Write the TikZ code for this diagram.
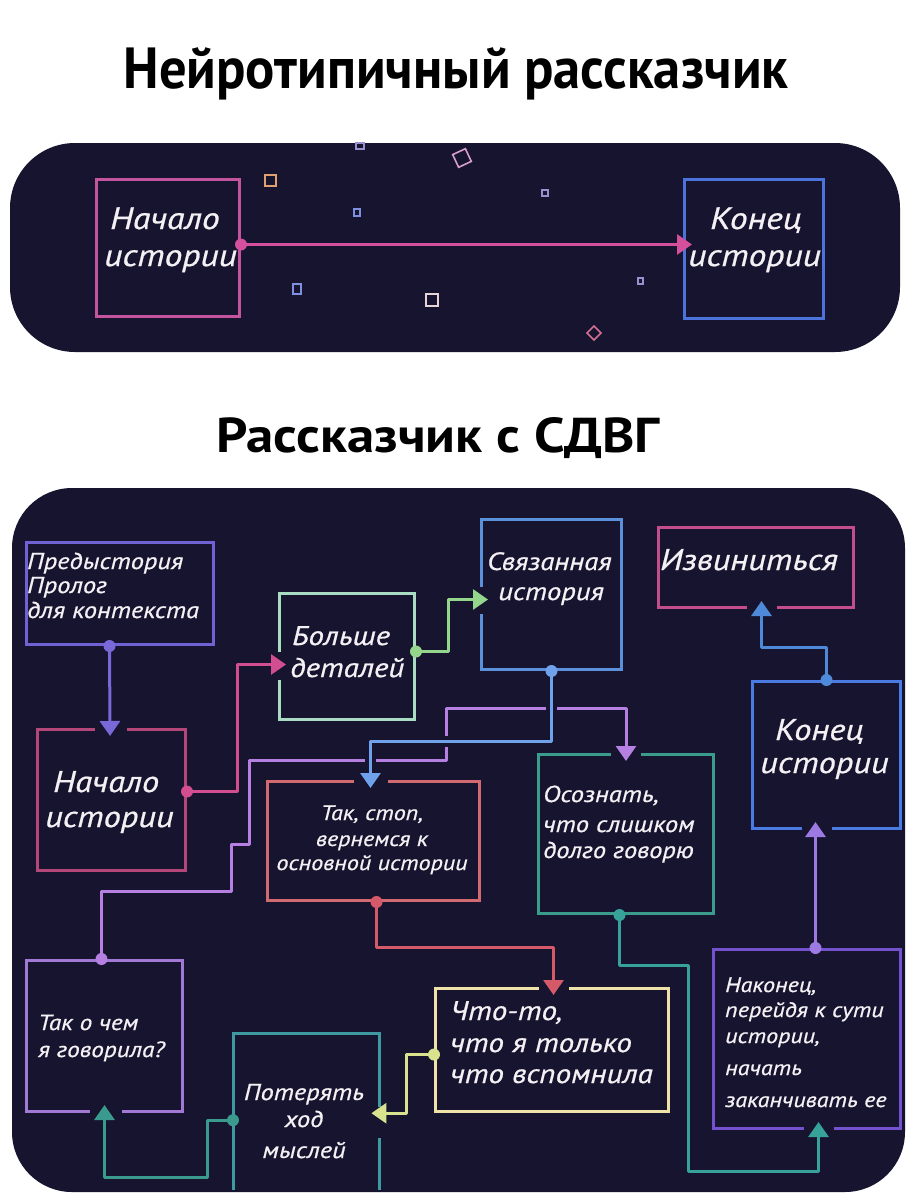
\documentclass[tikz,border=0pt]{standalone}
\usepackage{fontspec}
\setmainfont{PT Sans}
\newfontfamily\hand{PT Sans}[FakeStretch=1.15,FakeBold=0.7]
\newfontfamily\ttl{PT Sans}[FakeStretch=0.94]
\newfontfamily\ttlb{PT Sans}[FakeStretch=1.12]
\usetikzlibrary{arrows.meta,calc}
\definecolor{panel}{HTML}{17142F}
\definecolor{txt}{HTML}{F4F0F4}
\definecolor{cTS}{HTML}{C2559E}
\definecolor{cTE}{HTML}{4C72DC}
\definecolor{cTA}{HTML}{D4509C}
\definecolor{cPre}{HTML}{6E62D4}
\definecolor{cMore}{HTML}{A9DCC2}
\definecolor{cRel}{HTML}{5B90DA}
\definecolor{cSorry}{HTML}{C34E8C}
\definecolor{cStart}{HTML}{B4467A}
\definecolor{cStop}{HTML}{D26A72}
\definecolor{cReal}{HTML}{3A9C8C}
\definecolor{cEnd}{HTML}{4A7BE2}
\definecolor{cWhat}{HTML}{A27AD6}
\definecolor{cLose}{HTML}{3E9AA0}
\definecolor{cSth}{HTML}{F0E3AA}
\definecolor{cFin}{HTML}{7452CE}
\definecolor{aPre}{HTML}{7868D8}
\definecolor{aStart}{HTML}{D24E90}
\definecolor{aMore}{HTML}{93D68C}
\definecolor{aRel}{HTML}{6FA2EA}
\definecolor{aWhat}{HTML}{B680E2}
\definecolor{aStop}{HTML}{D45A6A}
\definecolor{aReal}{HTML}{36A299}
\definecolor{aFin}{HTML}{9C7AE2}
\definecolor{aEnd}{HTML}{4F8ADA}
\definecolor{aSth}{HTML}{D9E28C}
\definecolor{aLose}{HTML}{3A9A8E}
\definecolor{dOr}{HTML}{E0A070}
\definecolor{dPk}{HTML}{D8A0C8}
\definecolor{dLav}{HTML}{9A90D0}
\definecolor{dBl}{HTML}{8090E0}
\definecolor{dPale}{HTML}{E8D4D4}
\definecolor{dRose}{HTML}{D07090}
\begin{document}
\begin{tikzpicture}[x=1pt,y=-1pt,
  box/.style={draw, line width=3pt, inner sep=0pt, anchor=north west},
  conn/.style={line width=3pt, line join=round, shorten >=-8pt, -{Triangle[width=20pt,length=15pt]}},
  gapl/.style={draw=panel, line width=8pt},
  halo/.style={preaction={draw=panel, line width=11pt, arrows=-, shorten >=0pt}},
  lbl/.style={text=txt, inner sep=0pt, anchor=base west},
  lblc/.style={text=txt, inner sep=0pt, anchor=base},
  deco/.style={line width=1.6pt},
  fs/.style={font=\hand\itshape\fontsize{#1}{#1}\selectfont}]
\useasboundingbox (0,0) rectangle (911,1200);
\fill[white] (0,0) rectangle (911,1200);
% titles
\node[anchor=base, inner sep=0pt, font=\ttl\bfseries\fontsize{58}{58}\selectfont] (title1) at (456,88) {Нейротипичный рассказчик};
\node[anchor=base, inner sep=0pt, font=\ttlb\bfseries\fontsize{49}{49}\selectfont] (title2) at (438,452) {Рассказчик с СДВГ};
% panels
\fill[panel, rounded corners=65pt] (10,143) rectangle (900,352);
\fill[panel, rounded corners=60pt] (12,488) rectangle (905,1192);
% decorations
\draw[deco, dOr] (265,175) rectangle (276,186);
\draw[deco, dPk, rotate around={25:(462,158)}] (455,151) rectangle (469,165);
\draw[deco, dLav] (356,143) rectangle (364,149);
\draw[deco, dLav] (542,190) rectangle (548,196);
\draw[deco, dBl] (354,209) rectangle (360,216);
\draw[deco, dBl] (293,284) rectangle (301,294);
\draw[deco, dPale] (426,294) rectangle (438,306);
\draw[deco, dRose, rotate around={45:(594,333)}] (589,328) rectangle (599,338);
\draw[deco, dLav] (638,278) rectangle (643,284);
% top boxes
\node[box, draw=cTS, minimum width=143pt, minimum height=137pt] (tstart) at (95,178) {};
\node[box, draw=cTE, minimum width=139pt, minimum height=139pt] (tend) at (683,178) {};
\draw[conn, cTA, shorten >=-9pt] ([yshift=3.5pt]tstart.east) -- ([yshift=4.5pt]tend.west);
\fill[cTA] ([yshift=3.5pt]tstart.east) circle[radius=6pt];
\node[lbl, fs=31] (ts1) at (110,229) {Начало};
\node[lbl, fs=31] (ts2) at (104,266) {истории};
\node[lbl, fs=31] (te1) at (710,229) {Конец};
\node[lbl, fs=31] (te2) at (688,266) {истории};
% bottom boxes
\node[box, draw=cPre, minimum width=187pt, minimum height=102pt] (pre) at (25,541) {};
\node[box, draw=cMore, minimum width=135pt, minimum height=126pt] (more) at (278,592) {};
\node[box, draw=cRel, minimum width=140pt, minimum height=150pt] (rel) at (480,518) {};
\node[box, draw=cSorry, minimum width=195pt, minimum height=80pt] (sorry) at (657,526) {};
\node[box, draw=cStart, minimum width=148pt, minimum height=141pt] (start) at (36,728) {};
\node[box, draw=cStop, minimum width=212pt, minimum height=119pt] (stop) at (266,780) {};
\node[box, draw=cReal, minimum width=175pt, minimum height=159pt] (real) at (537,753) {};
\node[box, draw=cEnd, minimum width=148pt, minimum height=147pt] (end) at (751,680) {};
\node[box, draw=cWhat, minimum width=156pt, minimum height=151pt] (what) at (25,959) {};
\node[inner sep=0pt, anchor=north west, minimum width=146pt, minimum height=157pt] (lose) at (233,1033) {};
\draw[line width=3pt, cLose] (lose.south west) -- (lose.north west) -- (lose.north east) -- ([yshift=4.5pt]lose.east);
\draw[line width=3pt, cLose] ([yshift=-26.5pt]lose.east) -- (lose.south east);
\node[box, draw=cSth, minimum width=233pt, minimum height=123pt] (sth) at (434,987) {};
\node[box, draw=cFin, minimum width=187pt, minimum height=179pt] (fin) at (712,948) {};
% gaps where arrows enter
\draw[gapl] ([xshift=-17pt]start.north) -- ([xshift=15pt]start.north);
\draw[gapl] ([xshift=-20pt]stop.north) -- ([xshift=14pt]stop.north);
\draw[gapl] ([xshift=-15pt]real.north) -- ([xshift=15pt]real.north);
\draw[gapl] ([xshift=-13.5pt]sth.north) -- ([xshift=16.5pt]sth.north);
\draw[gapl] ([xshift=-25pt]end.south) -- ([xshift=5pt]end.south);
\draw[gapl] ([xshift=-9.5pt]sorry.south) -- ([xshift=20.5pt]sorry.south);
\draw[gapl] ([xshift=-15pt]what.south) -- ([xshift=17pt]what.south);
\draw[gapl] ([xshift=-3.5pt]fin.south) -- ([xshift=26.5pt]fin.south);
\draw[gapl] ([yshift=5pt]more.west) -- ([yshift=-23pt]more.west);
\draw[gapl] ([yshift=8pt]rel.west) -- ([yshift=-19pt]rel.west);
% connectors
\draw[conn, aPre] ([xshift=-10.5pt]pre.south) -- ([xshift=-1.5pt]start.north);
\draw[conn, aStart] ([yshift=8.5pt]start.east) -- ++(50,0) |- ([yshift=-8pt]more.west);
\draw[conn, aMore] ([yshift=5pt]more.east) -- ++(32,0) |- ([yshift=-5pt]rel.west);
\draw[conn, aWhat] ([xshift=-3pt]what.north) -- ++(0,-68) -- ++(130,0) -- ++(0,-47) -- ++(18,0) -- ++(0,-84) -- ++(197,0) -- ++(0,-52) -| (real.north);
\draw[conn, aRel, halo] (rel.south) -- ++(0,70) -| ([xshift=-3pt]stop.north);
\draw[conn, aStop] ([xshift=3pt]stop.south) -- ++(0,45) -| ([xshift=1.5pt]sth.north);
\draw[conn, aReal] ([xshift=-6.5pt]real.south) -- ++(0,50) -- ++(69,0) -- ++(0,206) -| ([xshift=11.5pt]fin.south);
\draw[conn, aFin] ([xshift=8.5pt]fin.north) -- ([xshift=-11pt]end.south);
\draw[conn, aEnd] (end.north) -- ++(0,-33) -| ([xshift=5.5pt]sorry.south);
\draw[conn, aSth] ([yshift=-4.5pt]sth.west) -- ++(-28,0) |- ([yshift=-1.5pt]lose.east);
\draw[conn, aLose] ([yshift=-8.5pt]lose.west) -- ++(-26,0) -- ++(0,57) -| (what.south);
% dots
\fill[aPre] ([xshift=-10.5pt]pre.south) circle[radius=6pt];
\fill[aStart] ([yshift=8.5pt]start.east) circle[radius=6pt];
\fill[aMore] ([yshift=5pt]more.east) circle[radius=6pt];
\fill[aWhat] ([xshift=-3pt]what.north) circle[radius=6pt];
\fill[aRel] (rel.south) circle[radius=6pt];
\fill[aStop] ([xshift=3pt]stop.south) circle[radius=6pt];
\fill[aReal] ([xshift=-6.5pt]real.south) circle[radius=6pt];
\fill[aFin] ([xshift=8.5pt]fin.north) circle[radius=6pt];
\fill[aEnd] (end.north) circle[radius=6pt];
\fill[aSth] ([yshift=-4.5pt]sth.west) circle[radius=6pt];
\fill[aLose] ([yshift=-8.5pt]lose.west) circle[radius=6pt];
% texts
\node[lbl, fs=23] (p1) at (27,569) {Предыстория};
\node[lbl, fs=23] (p2) at (27,593) {Пролог};
\node[lbl, fs=23] (p3) at (27,618) {для контекста};
\node[lbl, fs=27] (m1) at (292,645) {Больше};
\node[lbl, fs=27] (m2) at (290,677) {деталей};
\node[lbl, fs=25] (r1) at (487,570) {Связанная};
\node[lbl, fs=25] (r2) at (498,600) {история};
\node[lbl, fs=30] (s1) at (660,570) {Извиниться};
\node[lbl, fs=30] (b1) at (53,792) {Начало};
\node[lbl, fs=30] (b2) at (45,827) {истории};
\node[lblc, fs=21] (k1) at (372,820) {Так, стоп,};
\node[lblc, fs=21] (k2) at (372,846) {вернемся к};
\node[lblc, fs=21] (k3) at (372,870) {основной истории};
\node[lbl, fs=23] (o1) at (543,802) {Осознать,};
\node[lbl, fs=23] (o2) at (543,832) {что слишком};
\node[lbl, fs=23] (o3) at (543,858) {долго говорю};
\node[lbl, fs=30] (e1) at (775,740) {Конец};
\node[lbl, fs=30] (e2) at (760,773) {истории};
\node[lbl, fs=22] (w1) at (38,1030) {Так о чем};
\node[lbl, fs=22] (w2) at (38,1057) {я говорила?};
\node[lblc, fs=23] (l1) at (304,1100) {Потерять};
\node[lblc, fs=23] (l2) at (304,1127) {ход};
\node[lblc, fs=23] (l3) at (304,1158) {мыслей};
\node[lbl, fs=27] (c1) at (450,1020) {Что-то,};
\node[lbl, fs=27] (c2) at (450,1052) {что я только};
\node[lbl, fs=27] (c3) at (450,1083) {что вспомнила};
\node[lbl, fs=21] (f1) at (725,992) {Наконец,};
\node[lbl, fs=21] (f2) at (725,1017) {перейдя к сути};
\node[lbl, fs=21] (f3) at (725,1043) {истории,};
\node[lbl, fs=21] (f4) at (725,1075) {начать};
\node[lbl, fs=21] (f5) at (725,1107) {заканчивать ее};
\end{tikzpicture}
\end{document}
